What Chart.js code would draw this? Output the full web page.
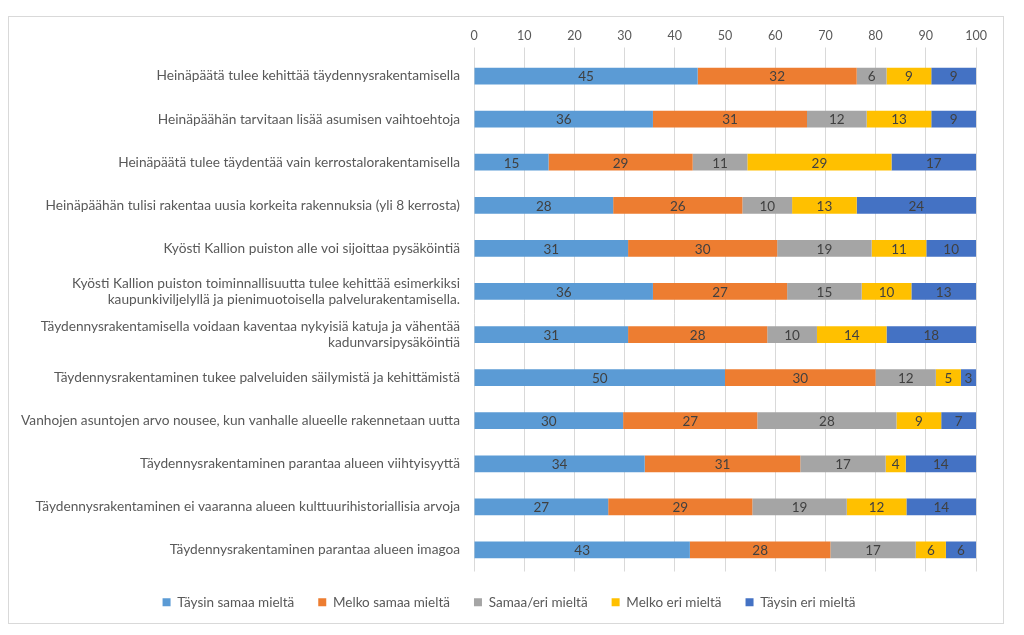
<!DOCTYPE html>
<html>
<head>
<meta charset="utf-8">
<script src="https://cdn.jsdelivr.net/npm/chart.js@4.4.0/dist/chart.umd.min.js"></script>
<style>
  html, body { margin: 0; padding: 0; background: #fff; }
  #kehys { position: absolute; left: 8px; top: 16px; width: 996px; height: 608px; border: 1px solid #d9d9d9; box-sizing: border-box; }
  #alue { position: absolute; left: 0; top: 0; width: 1024px; height: 635px; }
</style>
</head>
<body>
<div id="kehys"></div>
<div id="alue"><canvas id="myChart"></canvas></div>
<script>
// vaittamat (kategoriat)
const vaitteet = [
  "Heinäpäätä tulee kehittää täydennysrakentamisella",
  "Heinäpäähän tarvitaan lisää asumisen vaihtoehtoja",
  "Heinäpäätä tulee täydentää vain kerrostalorakentamisella",
  "Heinäpäähän tulisi rakentaa uusia korkeita rakennuksia (yli 8 kerrosta)",
  "Kyösti Kallion puiston alle voi sijoittaa pysäköintiä",
  ["Kyösti Kallion puiston toiminnallisuutta tulee kehittää esimerkiksi", "kaupunkiviljelyllä ja pienimuotoisella palvelurakentamisella."],
  ["Täydennysrakentamisella voidaan kaventaa nykyisiä katuja ja vähentää", "kadunvarsipysäköintiä"],
  "Täydennysrakentaminen tukee palveluiden säilymistä ja kehittämistä",
  "Vanhojen asuntojen arvo nousee, kun vanhalle alueelle rakennetaan uutta",
  "Täydennysrakentaminen parantaa alueen viihtyisyyttä",
  "Täydennysrakentaminen ei vaaranna alueen kulttuurihistoriallisia arvoja",
  "Täydennysrakentaminen parantaa alueen imagoa"
];

const sarjat = ["Täysin samaa mieltä", "Melko samaa mieltä", "Samaa/eri mieltä", "Melko eri mieltä", "Täysin eri mieltä"];

const taysinSamaa = [45, 36, 15, 28, 31, 36, 31, 50, 30, 34, 27, 43];
const melkoSamaa  = [32, 31, 29, 26, 30, 27, 28, 30, 27, 31, 29, 28];
const samaaEri    = [6, 12, 11, 10, 19, 15, 10, 12, 28, 17, 19, 17];
const melkoEri    = [9, 13, 29, 13, 11, 10, 14, 5, 9, 4, 12, 6];
const taysinEri   = [9, 9, 17, 24, 10, 13, 18, 3, 7, 14, 14, 6];

const xTikit = [0, 10, 20, 30, 40, 50, 60, 70, 80, 90, 100];

const varit = ["#5b9bd5", "#ed7d31", "#a5a5a5", "#ffc000", "#4472c4"];

const kaikki = [taysinSamaa, melkoSamaa, samaaEri, melkoEri, taysinEri];

// 100 % pinottu: skaalataan rivit sataan
const summat = vaitteet.map((v, i) => kaikki.reduce((s, a) => s + a[i], 0));

const fontti = "Lato, 'DejaVu Sans', sans-serif";

const arvoLaput = {
  id: "arvoLaput",
  afterDatasetsDraw(chart) {
    const c = chart.ctx;
    c.save();
    c.font = "13.5px " + fontti;
    c.fillStyle = "#404040";
    c.textAlign = "center";
    c.textBaseline = "middle";
    chart.data.datasets.forEach((ds, d) => {
      chart.getDatasetMeta(d).data.forEach((el, i) => {
        const p = el.getCenterPoint();
        c.fillText(String(ds.raaka[i]), p.x, p.y + 1);
      });
    });
    c.restore();
  }
};

// selite keskelle kehystä
const seliteSiirto = {
  id: "seliteSiirto",
  afterLayout(chart) {
    if (chart.legend) {
      chart.legend.left += 21;
      chart.legend.right += 21;
    }
  }
};

const ctx = document.getElementById("myChart");

new Chart(ctx, {
  type: "bar",
  data: {
    labels: vaitteet,
    datasets: kaikki.map((a, s) => ({
      label: sarjat[s],
      data: a.map((v, i) => v / summat[i] * 100),
      raaka: a,
      backgroundColor: varit[s],
      borderWidth: 0,
      barPercentage: 0.39,
      categoryPercentage: 1
    }))
  },
  options: {
    indexAxis: "y",
    responsive: true,
    maintainAspectRatio: false,
    animation: false,
    layout: { padding: { left: 0, right: 48, top: 24.5, bottom: 16 } },
    scales: {
      x: {
        position: "top",
        stacked: true,
        min: 0,
        max: 100,
        afterBuildTicks(scale) { scale.ticks = xTikit.map(v => ({ value: v })); },
        grid: { color: "#d9d9d9", tickLength: 7 },
        border: { display: false },
        ticks: { color: "#595959", font: { family: fontti, size: 12.5 }, padding: 4 }
      },
      y: {
        stacked: true,
        afterFit(scale) { scale.width = 474; },
        grid: { display: false, drawTicks: false },
        border: { display: false },
        ticks: { color: "#595959", font: { family: fontti, size: 13.7 }, padding: 14, autoSkip: false }
      }
    },
    plugins: {
      legend: {
        position: "bottom",
        labels: {
          color: "#595959",
          font: { family: fontti, size: 13.5 },
          boxWidth: 8,
          boxHeight: 8,
          padding: 24
        }
      },
      tooltip: { enabled: false }
    }
  },
  plugins: [arvoLaput, seliteSiirto]
});
</script>
</body>
</html>
